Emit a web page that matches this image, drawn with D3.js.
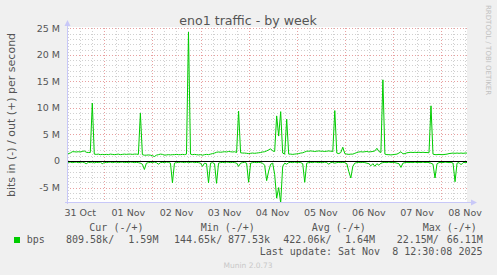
<!DOCTYPE html>
<html><head><meta charset="utf-8">
<script src="https://cdn.jsdelivr.net/npm/d3@7"></script>
<style>
html,body{margin:0;padding:0;background:#f0f0f0;}
svg{display:block;}
text{font-family:"DejaVu Sans",sans-serif;}
.mono{font-family:"DejaVu Sans Mono",monospace;}
</style></head>
<body>
<script>
// ---- data (values in Mbit/s, one sample per hour starting 31 Oct 05:00 UTC) ----
const outValues = [
1.4,1.4,1.5,1.75,1.75,1.7,1.75,1.7,1.8,1.9,1.65,1.6,1.6,10.9,1.3,1.25,1.3,1.2,1.25,1.2,
1.25,1.2,1.3,1.25,1.2,1.25,1.3,1.2,1.25,1.3,1.25,1.3,1.3,1.25,1.3,1.3,1.25,9.0,1.2,1.1,
1.1,1.15,1.1,1.0,0.85,1.1,1.2,1.3,1.25,1.1,1.15,1.2,1.15,1.2,1.2,1.25,1.2,1.2,1.25,1.2,
1.3,24.3,1.3,1.2,1.25,1.2,1.15,1.2,1.1,1.2,1.25,1.2,1.3,1.4,1.5,1.65,1.7,1.65,1.7,1.75,
1.7,1.8,1.75,1.7,1.75,1.6,9.4,1.55,1.5,1.5,1.45,1.4,1.45,1.5,1.45,1.5,1.55,1.6,1.7,1.75,
1.9,2.1,2.3,1.9,1.8,8.5,4.7,9.3,1.5,1.3,7.9,1.3,1.3,1.25,1.3,1.35,1.4,1.5,1.55,1.7,
1.85,1.85,1.9,1.85,1.8,1.85,1.9,1.85,1.85,1.8,1.85,1.9,1.85,1.8,9.5,1.5,1.4,1.6,2.6,1.4,
1.3,1.25,1.3,1.3,1.45,1.6,1.7,1.75,1.7,1.75,1.8,1.7,1.75,1.8,1.9,2.4,1.8,1.6,15.3,1.3,
1.2,1.2,1.15,1.2,1.25,1.3,1.5,1.75,1.35,1.4,1.55,1.6,1.65,1.6,1.65,1.6,1.65,1.6,1.65,1.6,
1.6,1.55,10.4,1.3,1.2,1.2,1.25,1.2,1.2,1.25,1.3,1.4,1.45,1.5,1.45,1.5,1.45,1.5,1.45,1.5,
1.5
];
const inValues = [
-0.2,-0.25,-0.2,-0.3,-0.25,-0.2,-0.3,-0.25,-0.2,-0.3,-0.5,-0.25,-0.3,-0.2,-0.35,-0.25,-0.3,-0.2,-0.5,-0.25,
-0.3,-0.25,-0.2,-0.3,-0.25,-0.2,-0.3,-0.25,-0.2,-0.3,-0.25,-0.3,-0.2,-0.25,-0.3,-0.25,-0.3,-0.4,-0.6,-1.6,
-0.4,-0.3,-0.25,-0.3,-0.2,-0.3,-0.6,-0.3,-0.25,-0.3,-0.2,-0.25,-0.4,-4.1,-0.4,-0.25,-0.3,-0.2,-0.25,-0.3,
-0.2,-0.3,-0.25,-0.2,-0.3,-0.25,-0.3,-0.4,-1.0,-0.4,-0.5,-4.1,-0.4,-0.3,-0.5,-4.2,-0.4,-0.3,-0.25,-0.3,
-0.2,-0.25,-0.3,-0.25,-0.3,-0.4,-1.0,-0.4,-0.3,-0.25,-0.4,-4.0,-0.4,-0.3,-0.25,-0.3,-0.25,-0.3,-0.4,-0.8,
-3.7,-1.9,-0.6,-0.4,-2.5,-7.0,-5.0,-7.9,-1.0,-0.4,-0.6,-0.3,-0.25,-0.3,-0.2,-0.3,-0.25,-0.3,-0.5,-4.0,
-0.4,-0.3,-0.25,-0.3,-0.2,-0.25,-0.3,-0.25,-0.3,-0.2,-0.3,-0.6,-0.3,-0.25,-0.4,-0.3,-0.25,-0.3,-0.25,-0.3,
-0.5,-2.0,-3.2,-1.0,-0.4,-0.3,-0.25,-0.3,-0.25,-0.3,-0.4,-0.5,-0.9,-0.5,-1.0,-0.5,-0.8,-0.4,-0.3,-0.25,
-0.3,-0.2,-0.3,-0.25,-0.3,-0.4,-0.5,-1.2,-0.4,-0.3,-0.25,-0.3,-0.25,-0.3,-0.2,-0.3,-0.25,-0.3,-0.2,-0.3,
-0.25,-0.3,-0.4,-0.6,-3.2,-0.5,-0.3,-0.25,-0.3,-0.2,-0.25,-0.3,-0.25,-0.4,-3.9,-0.4,-0.3,-0.7,-0.3,-0.25,
-0.3
];
const firstSample = Date.UTC(2025, 9, 31, 5, 0);
const stepHours = 1;
const xTickLabels = ["31 Oct","01 Nov","02 Nov","03 Nov","04 Nov","05 Nov","06 Nov","07 Nov","08 Nov"];
const yTicks = [-5, 0, 5, 10, 15, 20, 25];
const yTickLabels = ["-5 M", "0", "5 M", "10 M", "15 M", "20 M", "25 M"];
const legendHeaders = ["Cur (-/+)", "Min (-/+)", "Avg (-/+)", "Max (-/+)"];
const legendValues = ["809.58k/", "1.59M", "144.65k/", "877.53k", "422.06k/", "1.64M", "22.15M/", "66.11M"];
const seriesName = "bps";
const titleText = "eno1 traffic - by week";
const yLabelText = "bits in (-) / out (+) per second";
const lastUpdate = "Last update: Sat Nov  8 12:30:08 2025";

// ---- layout ----
const W = 497, H = 275;
const L = 67, R = 467, T = 28, B = 202;
const green = "#00cc00", textCol = "#555555";

const svg = d3.select("body").append("svg").attr("width", W).attr("height", H);
svg.append("rect").attr("width", W).attr("height", H).attr("fill", "#f0f0f0");

const x = d3.scaleUtc()
  .domain([new Date(Date.UTC(2025, 9, 31, 5, 23)), new Date(Date.UTC(2025, 10, 8, 12, 58))])
  .range([L, R]);
const y = d3.scaleLinear().domain([-7.72, 25.06]).range([B, T]);

svg.append("rect").attr("x", L).attr("y", T - 1).attr("width", R - L).attr("height", B - T + 1).attr("fill", "#ffffff");

// grid
const g = svg.append("g").attr("shape-rendering", "crispEdges");
const [d0, d1] = x.domain();
const minorX = d3.utcHour.every(6).range(d0, d1).filter(d => d.getUTCHours() !== 0);
const majorX = d3.utcDay.range(d0, d1);
g.selectAll(".vminor").data(minorX).join("line")
  .attr("x1", d => Math.round(x(d)) + 0.5).attr("x2", d => Math.round(x(d)) + 0.5)
  .attr("y1", T).attr("y2", B).attr("stroke", "#d0d0d0").attr("stroke-dasharray", "1,2");
const minorY = d3.range(-7, 26).filter(v => v % 5 !== 0);
g.selectAll(".hminor").data(minorY).join("line")
  .attr("y1", d => Math.round(y(d)) + 0.5).attr("y2", d => Math.round(y(d)) + 0.5)
  .attr("x1", L).attr("x2", R).attr("stroke", "#d0d0d0").attr("stroke-dasharray", "1,2");
g.selectAll(".vmajor").data(majorX).join("line")
  .attr("x1", d => Math.round(x(d)) + 0.5).attr("x2", d => Math.round(x(d)) + 0.5)
  .attr("y1", T).attr("y2", B).attr("stroke", "#e8a0a0").attr("stroke-dasharray", "1,2");
g.selectAll(".hmajor").data(yTicks.filter(v => v !== 0)).join("line")
  .attr("y1", d => Math.round(y(d)) + 0.5).attr("y2", d => Math.round(y(d)) + 0.5)
  .attr("x1", L).attr("x2", R).attr("stroke", "#e8a0a0").attr("stroke-dasharray", "1,2");

// data lines
svg.append("clipPath").attr("id", "clip").append("rect")
  .attr("x", L).attr("y", T - 10).attr("width", R - L).attr("height", B - T + 10);
const tOf = i => new Date(firstSample + i * stepHours * 3600000);
const line = d3.line().x((d, i) => x(tOf(i))).y(d => y(d));
const plot = svg.append("g").attr("clip-path", "url(#clip)");
plot.append("path").attr("d", line(inValues)).attr("fill", "none").attr("stroke", green).attr("stroke-width", 1);
plot.append("path").attr("d", line(outValues)).attr("fill", "none").attr("stroke", green).attr("stroke-width", 1);
svg.append("line").attr("x1", L).attr("x2", R).attr("y1", Math.round(y(0)) + 0.5).attr("y2", Math.round(y(0)) + 0.5)
  .attr("stroke", "#000").attr("stroke-width", 1).attr("shape-rendering", "crispEdges");

// axes (rrdtool style)
const axisCol = "#c8c8f8";
svg.append("line").attr("x1", L + 0.5).attr("x2", L + 0.5).attr("y1", B + 2).attr("y2", T - 4)
  .attr("stroke", axisCol).attr("shape-rendering", "crispEdges");
svg.append("line").attr("x1", L - 2).attr("x2", R + 5).attr("y1", B + 0.5).attr("y2", B + 0.5)
  .attr("stroke", axisCol).attr("shape-rendering", "crispEdges");
svg.append("path").attr("d", `M${L - 2.5},${T - 2} L${L + 0.5},${T - 8} L${L + 3.5},${T - 2} Z`).attr("fill", axisCol);
svg.append("path").attr("d", `M${R + 4},${B - 2.5} L${R + 10},${B + 0.5} L${R + 4},${B + 3.5} Z`).attr("fill", axisCol);

// y tick labels
svg.selectAll(".ylab").data(yTicks).join("text")
  .attr("x", 60).attr("y", d => y(d)).attr("dy", "0.35em").attr("text-anchor", "end")
  .attr("font-size", "9.5px").attr("fill", textCol).text((d, i) => yTickLabels[i]);

// x tick labels (centered at noon of each day)
const noonDays = d3.utcDay.range(new Date(Date.UTC(2025, 9, 31)), new Date(Date.UTC(2025, 10, 9)));
svg.selectAll(".xlab").data(noonDays).join("text")
  .attr("x", d => x(d3.utcHour.offset(d, 12))).attr("y", 212.5).attr("dy", "0.35em")
  .attr("text-anchor", "middle").attr("font-size", "9.5px").attr("fill", textCol)
  .text((d, i) => xTickLabels[i]);

// title
svg.append("text").attr("x", 248).attr("y", 24.5).attr("text-anchor", "middle")
  .attr("font-size", "12.6px").attr("fill", textCol).text(titleText);

// y label
svg.append("text").attr("transform", "translate(15,115) rotate(-90)").attr("text-anchor", "middle")
  .attr("font-size", "11px").attr("fill", textCol).text(yLabelText);

// watermark
svg.append("text").attr("transform", "translate(486,5) rotate(90)").attr("text-anchor", "start")
  .attr("font-size", "7px").attr("fill", "#c0c0c0").text("RRDTOOL / TOBI OETIKER");

// legend
const hx = [89.3, 200.7, 311.7, 422.7];
svg.selectAll(".lh").data(legendHeaders).join("text").attr("class", "mono")
  .attr("x", (d, i) => hx[i]).attr("y", 231).attr("font-size", "10px").attr("fill", textCol).text(d => d);
svg.append("rect").attr("x", 14).attr("y", 237).attr("width", 6).attr("height", 6).attr("fill", green);
svg.append("text").attr("class", "mono").attr("x", 26.7).attr("y", 243).attr("font-size", "10px")
  .attr("fill", textCol).text(seriesName);
const vx = [66, 128.3, 174, 228, 283.3, 345, 396.7, 446.7];
svg.selectAll(".lv").data(legendValues).join("text").attr("class", "mono")
  .attr("x", (d, i) => vx[i]).attr("y", 243).attr("font-size", "10px").attr("fill", textCol).text(d => d);
svg.append("text").attr("class", "mono").attr("x", 482.5).attr("y", 255).attr("text-anchor", "end")
  .attr("font-size", "10px").attr("fill", textCol).attr("xml:space", "preserve").style("white-space", "pre").text(lastUpdate);
svg.append("text").attr("x", 248).attr("y", 267.5).attr("text-anchor", "middle")
  .attr("font-size", "7.5px").attr("fill", "#c8c8c8").text("Munin 2.0.73");
</script>
</body></html>
